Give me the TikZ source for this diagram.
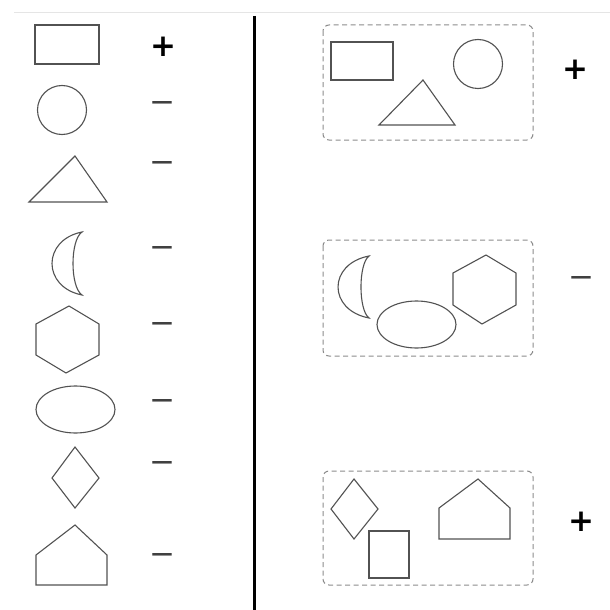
\documentclass[tikz,border=0pt]{standalone}
\usepackage{fontspec}
\newfontfamily\signfont{DejaVu Sans}
\begin{document}
\begin{tikzpicture}[x=1pt,y=-1pt,
  shp/.style={draw=black!68,line width=1.1pt,line join=miter},
  grp/.style={draw=black!45,line width=1pt,dash pattern=on 5pt off 3.5pt,rounded corners=6pt},
  plussign/.style={inner sep=0pt,font=\signfont\bfseries\fontsize{31}{31}\selectfont,text=black},
  minussign/.style={inner sep=0pt,font=\signfont\fontsize{31}{31}\selectfont,text=black!75}]
\useasboundingbox (0,0) rectangle (610,610);
\fill[white] (0,0) rectangle (610,610);
% faint top rule
\draw[black!10,line width=1pt] (14,12.5) -- (610,12.5);
% separator
\draw[black,line width=3.2pt] (254.5,16) -- (254.5,610);

% ---- left column ----
\draw[shp] (35,25) rectangle (99,64);
\node[plussign] (s1) at (163,47) {+};
\draw[shp] (62,110) circle (24.5);
\node[minussign] (s2) at (162,107) {−};
\draw[shp] (29,202) -- (75,156) -- (107,202) -- cycle;
\node[minussign] (s3) at (162,167) {−};
\draw[shp] (82,232) .. controls (42,240) and (42,287) .. (82,295)
               .. controls (70,287) and (70,240) .. (82,232) -- cycle;
\node[minussign] (s4) at (162,252) {−};
\draw[shp] (69,306) -- (99,324) -- (99,355) -- (66,373) -- (36,355) -- (36,324) -- cycle;
\node[minussign] (s5) at (162,328) {−};
\draw[shp] (75.5,409.5) ellipse (39.5 and 23.5);
\node[minussign] (s6) at (162,405) {−};
\draw[shp] (75,447) -- (99,478) -- (75,508) -- (52,478) -- cycle;
\node[minussign] (s7) at (162,467) {−};
\draw[shp] (75,525) -- (107,555) -- (107,585) -- (36,585) -- (36,555) -- cycle;
\node[minussign] (s8) at (162,559) {−};

% ---- right column: group 1 ----
\draw[grp] (323,25) rectangle (533,140);
\draw[shp] (331,42) rectangle (393,80);
\draw[shp] (478,64) circle (24.5);
\draw[shp] (379,125) -- (423,80) -- (455,125) -- cycle;
\node[plussign] (g1) at (575,70) {+};

% ---- group 2 ----
\draw[grp] (323,240) rectangle (533,356);
\draw[shp] (369,256) .. controls (327.7,264) and (327.7,310) .. (369,318)
               .. controls (358.3,310) and (358.3,264) .. (369,256) -- cycle;
\draw[shp] (416.5,324.5) ellipse (39.5 and 23.5);
\draw[shp] (486,255) -- (516,273) -- (516,305) -- (482,324) -- (453,305) -- (453,273) -- cycle;
\node[minussign] (g2) at (581,282) {−};

% ---- group 3 ----
\draw[grp] (323,471) rectangle (533,585);
\draw[shp] (354,479) -- (378,509) -- (354,539) -- (331,509) -- cycle;
\draw[shp] (369,531) rectangle (409,578);
\draw[shp] (478,479) -- (510,508) -- (510,539) -- (439,539) -- (439,508) -- cycle;
\node[plussign] (g3) at (581,522) {+};
\end{tikzpicture}
\end{document}
